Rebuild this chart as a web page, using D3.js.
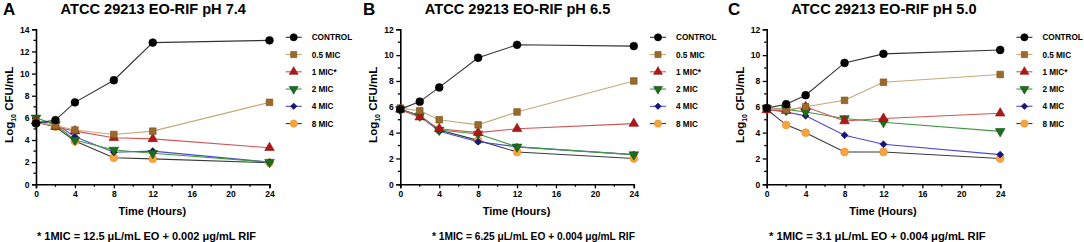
<!DOCTYPE html>
<html><head><meta charset="utf-8">
<script src="https://cdn.jsdelivr.net/npm/d3@7"></script>
<style>
html,body{margin:0;padding:0;background:#fff;}
svg{display:block;font-family:"Liberation Sans",Arial,sans-serif;}
</style></head>
<body>
<svg id="chart" width="1084" height="242"></svg>
<script>
// ---------- data ----------
const times = [0, 2, 4, 8, 12, 24];
const seriesNames = ["CONTROL", "0.5 MIC", "1 MIC*", "2 MIC", "4 MIC", "8 MIC"];
const panelLetters = ["A", "B", "C"];
const panelTitles = ["ATCC 29213 EO-RIF pH 7.4", "ATCC 29213 EO-RIF pH 6.5", "ATCC 29213 EO-RIF pH 5.0"];
const footnotes = ["* 1MIC = 12.5 \u03bcL/mL EO + 0.002 \u03bcg/mL RIF",
                   "* 1MIC = 6.25 \u03bcL/mL EO + 0.004 \u03bcg/mL RIF",
                   "* 1MIC = 3.1 \u03bcL/mL EO + 0.004 \u03bcg/mL RIF"];
const yMax = [14, 12, 12];
const xTicks = [0, 4, 8, 12, 16, 20, 24];

// Panel A (pH 7.4)
const a_control = [5.5, 5.8, 7.4, 9.4, 12.8, 13.0];
const a_mic05   = [5.6, 5.3, 4.9, 4.5, 4.8, 7.4];
const a_mic1    = [5.7, 5.2, 4.8, 4.2, 4.1, 3.3];
const a_mic2    = [6.0, 5.4, 4.0, 3.1, 2.8, 2.0];
const a_mic4    = [5.7, 5.5, 4.3, 2.9, 3.0, 2.0];
const a_mic8    = [5.6, 5.2, 3.9, 2.4, 2.3, 1.95];
// Panel B (pH 6.5)
const b_control = [5.8, 6.4, 7.5, 9.8, 10.8, 10.7];
const b_mic05   = [5.9, 5.7, 5.0, 4.6, 5.6, 8.0];
const b_mic1    = [5.8, 5.2, 4.3, 4.0, 4.3, 4.7];
const b_mic2    = [5.8, 5.3, 4.2, 3.9, 2.9, 2.3];
const b_mic4    = [5.8, 5.3, 4.1, 3.3, 2.9, 2.3];
const b_mic8    = [5.8, 5.3, 4.2, 3.4, 2.5, 2.0];
// Panel C (pH 5.0)
const c_control = [5.9, 6.2, 6.9, 9.4, 10.1, 10.4];
const c_mic05   = [5.9, 5.75, 6.0, 6.5, 7.9, 8.5];
const c_mic1    = [5.75, 5.7, 6.0, 4.9, 5.1, 5.5];
const c_mic2    = [5.9, 5.8, 5.6, 5.1, 4.8, 4.1];
const c_mic4    = [5.8, 5.6, 5.3, 3.8, 3.1, 2.3];
const c_mic8    = [5.8, 4.6, 4.0, 2.5, 2.5, 2.0];

const panelData = [
  [a_control, a_mic05, a_mic1, a_mic2, a_mic4, a_mic8],
  [b_control, b_mic05, b_mic1, b_mic2, b_mic4, b_mic8],
  [c_control, c_mic05, c_mic1, c_mic2, c_mic4, c_mic8]
];

// ---------- styles ----------
const lineColors   = ["#333333", "#c9a878", "#d05555", "#3f9a3f", "#4a4ad0", "#3a3a3a"];
const markerColors = ["#000000", "#9a6a2c", "#b01818", "#1c6e1c", "#16167e", "#f7a440"];
const markerStroke = ["#000000", "#7a5018", "#8a1010", "#124e12", "#0e0e5a", "#e89020"];
const shapes = ["circle", "square", "triangle", "tridown", "diamond", "circle"];

const axisX0 = [36, 400.3, 766.7];
const plotW = 233.5;
const yTop = 29.3, yBot = 184.3;
const letterX = [3, 363, 728];
const footX = [37, 432, 769];
const footSize = [11, 10.2, 11.2];

const svg = d3.select("#chart");

function symbolPath(shape, scale) {
  const k = scale || 1;
  switch (shape) {
    case "circle": return d3.symbol(d3.symbolCircle, 48 * k)();
    case "square": return d3.symbol(d3.symbolSquare, 44 * k)();
    case "triangle": return d3.symbol(d3.symbolTriangle, 40 * k)();
    case "tridown": return d3.symbol(d3.symbolTriangle, 40 * k)();
    case "diamond": return d3.symbol(d3.symbolSquare, 24 * k)();
  }
}
function symbolRot(shape) {
  if (shape === "tridown") return 180;
  if (shape === "diamond") return 45;
  return 0;
}

panelData.forEach((series, p) => {
  const x0 = axisX0[p];
  const g = svg.append("g");
  const x = d3.scaleLinear().domain([0, 24]).range([x0, x0 + plotW]);
  const y = d3.scaleLinear().domain([0, yMax[p]]).range([yBot, yTop]);

  // panel letter
  g.append("text").attr("x", letterX[p]).attr("y", 15)
    .attr("font-size", 17).attr("font-weight", "bold").text(panelLetters[p]);
  // title
  g.append("text").attr("x", x0 + plotW / 2 + 0.5).attr("y", 14)
    .attr("text-anchor", "middle").attr("font-size", 14.6).attr("font-weight", "bold")
    .text(panelTitles[p]);

  // x axis
  const xAxis = d3.axisBottom(x).tickValues(xTicks).tickSize(4).tickPadding(3).tickFormat(d3.format("d"));
  const gx = g.append("g").attr("transform", `translate(0,${yBot})`).call(xAxis);
  const minorX = d3.range(2, 24, 4);
  gx.selectAll(".minor").data(minorX).enter().append("line")
    .attr("x1", d => x(d)).attr("x2", d => x(d)).attr("y1", 0).attr("y2", 2.5)
    .attr("stroke", "#000").attr("stroke-width", 1.3);
  // y axis
  const yTickVals = d3.range(0, yMax[p] + 1, 2);
  const yAxis = d3.axisLeft(y).tickValues(yTickVals).tickSize(4).tickPadding(2.5).tickFormat(d3.format("d"));
  const gy = g.append("g").attr("transform", `translate(${x0},0)`).call(yAxis);
  const minorY = d3.range(1, yMax[p], 2);
  gy.selectAll(".minor").data(minorY).enter().append("line")
    .attr("x1", 0).attr("x2", -2.5).attr("y1", d => y(d)).attr("y2", d => y(d))
    .attr("stroke", "#000").attr("stroke-width", 1.3);

  [gx, gy].forEach(ax => {
    ax.select(".domain").attr("stroke", "#000").attr("stroke-width", 1.6);
    ax.selectAll(".tick line").attr("stroke", "#000").attr("stroke-width", 1.3);
    ax.selectAll(".tick text").attr("font-size", 8.5).attr("font-weight", "bold")
      .attr("fill", "#000").attr("font-family", "Liberation Sans, Arial, sans-serif");
  });

  // axis titles
  g.append("text").attr("x", x0 + plotW / 2 - 0.5).attr("y", 214.5)
    .attr("text-anchor", "middle").attr("font-size", 11).attr("font-weight", "bold")
    .text("Time (Hours)");
  const yt = g.append("text")
    .attr("transform", `translate(${x0 - 23},${(yTop + yBot) / 2 - 2}) rotate(-90)`)
    .attr("text-anchor", "middle").attr("font-size", 11.5).attr("font-weight", "bold");
  yt.append("tspan").text("Log");
  yt.append("tspan").attr("font-size", 7).attr("dy", 3).text("10");
  yt.append("tspan").attr("dy", -3).text(" CFU/mL");

  // footnote
  g.append("text").attr("x", footX[p]).attr("y", 240.2)
    .attr("font-size", footSize[p]).attr("font-weight", "bold").text(footnotes[p]);

  // series (draw last series first so CONTROL is on top)
  const line = d3.line().x((d, i) => x(times[i])).y(d => y(d));
  for (let s = series.length - 1; s >= 0; s--) {
    const vals = series[s];
    g.append("path").datum(vals).attr("d", line).attr("fill", "none")
      .attr("stroke", lineColors[s]).attr("stroke-width", 1.1);
    g.selectAll(null).data(vals).enter().append("path")
      .attr("d", symbolPath(shapes[s]))
      .attr("transform", (d, i) => `translate(${x(times[i])},${y(d)}) rotate(${symbolRot(shapes[s])})`)
      .attr("fill", markerColors[s]).attr("stroke", markerStroke[s]).attr("stroke-width", 0.6);
  }

  // legend
  const lg = g.append("g");
  seriesNames.forEach((name, s) => {
    const ly = 37.3 + s * 17.25;
    const mx = x0 + 257.7;
    lg.append("line").attr("x1", mx - 8).attr("x2", mx + 8).attr("y1", ly).attr("y2", ly)
      .attr("stroke", lineColors[s]).attr("stroke-width", 1.1);
    lg.append("path").attr("d", symbolPath(shapes[s], 0.85))
      .attr("transform", `translate(${mx},${ly}) rotate(${symbolRot(shapes[s])})`)
      .attr("fill", markerColors[s]).attr("stroke", markerStroke[s]).attr("stroke-width", 0.6);
    lg.append("text").attr("x", x0 + 275.7).attr("y", ly + 3)
      .attr("font-size", 8.2).attr("font-weight", "bold").text(name);
  });
});
</script>
</body></html>
